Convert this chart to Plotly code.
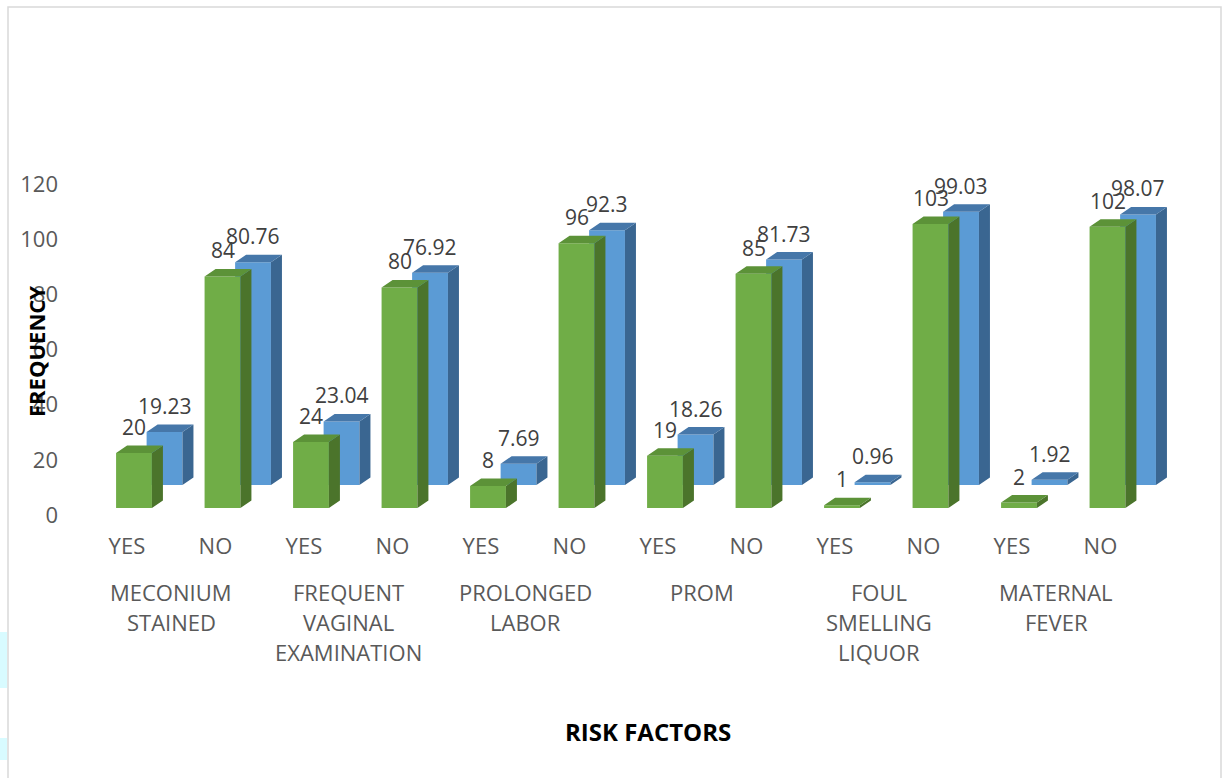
import plotly.graph_objects as go

# ---------------- data ----------------
answers = ["YES", "NO"] * 6
groups = [
    ["MECONIUM", "STAINED"],
    ["FREQUENT", "VAGINAL", "EXAMINATION"],
    ["PROLONGED", "LABOR"],
    ["PROM"],
    ["FOUL", "SMELLING", "LIQUOR"],
    ["MATERNAL", "FEVER"],
]
frequency = [20, 84, 24, 80, 8, 96, 19, 85, 1, 103, 2, 102]
percent = [19.23, 80.76, 23.04, 76.92, 7.69, 92.3, 18.26, 81.73, 0.96, 99.03, 1.92, 98.07]
y_ticks = [0, 20, 40, 60, 80, 100, 120]

# ---------------- layout geometry (pixels) ----------------
W, H = 1226, 778
ML, MR, MT, MB = 65, 40, 150, 263
X0_PX, STEP_PX = 134, 88.5          # pixel of first category, px per category
PX_PER_UNIT = 2.758                 # px per y unit
plot_w = W - ML - MR
plot_h = H - MT - MB
x_min = -(X0_PX - ML) / STEP_PX
x_max = x_min + plot_w / STEP_PX
y_max = plot_h / PX_PER_UNIT

# pseudo-3D styling
DX = 11 / STEP_PX
DY = 7.5 / PX_PER_UNIT
BAR_W = 0.405
GREEN_BASE = 2.5
BLUE_BASE = 10.9
BLUE_OFF = 0.345

GREEN = dict(front="#70AD47", side="#4B742B", top="#5C9238")
BLUE = dict(front="#5B9BD5", side="#3A6691", top="#4677A9")

xs = list(range(len(answers)))


def faces(xc, base, vals, w):
    sx, sy, tx, ty = [], [], [], []
    for x, v in zip(xc, vals):
        xl, xr = x - w / 2, x + w / 2
        y0, y1 = base, base + v
        sx += [xr, xr + DX, xr + DX, xr, xr, None]
        sy += [y0, y0 + DY, y1 + DY, y1, y0, None]
        tx += [xl, xr, xr + DX, xl + DX, xl, None]
        ty += [y1, y1, y1 + DY, y1 + DY, y1, None]
    return sx, sy, tx, ty


fig = go.Figure()


def add_series(xc, vals, base, col, xa, ya, name):
    fig.add_trace(go.Bar(x=xc, y=vals, base=base, width=BAR_W, name=name,
                         marker=dict(color=col["front"], line=dict(width=0)),
                         xaxis=xa, yaxis=ya, hoverinfo="skip"))
    sx, sy, tx, ty = faces(xc, base, vals, BAR_W)
    fig.add_trace(go.Scatter(x=sx, y=sy, fill="toself", mode="lines",
                             line=dict(width=0, color=col["side"]), fillcolor=col["side"],
                             xaxis=xa, yaxis=ya, hoverinfo="skip"))
    fig.add_trace(go.Scatter(x=tx, y=ty, fill="toself", mode="lines",
                             line=dict(width=0, color=col["top"]), fillcolor=col["top"],
                             xaxis=xa, yaxis=ya, hoverinfo="skip"))


blue_x = [x + BLUE_OFF for x in xs]
add_series(blue_x, percent, BLUE_BASE, BLUE, "x", "y", "Percent")
add_series(xs, frequency, GREEN_BASE, GREEN, "x2", "y2", "Frequency")

annotations = []
LABEL_FONT = dict(family="Open Sans", size=21, color="#404040")
for x, v in zip(blue_x, percent):
    annotations.append(dict(x=x, y=BLUE_BASE + v, xref="x", yref="y", text=f"{v:g}",
                            showarrow=False, yanchor="bottom", xanchor="center",
                            yshift=10, font=LABEL_FONT))
for x, v in zip(xs, frequency):
    annotations.append(dict(x=x, y=GREEN_BASE + v, xref="x", yref="y", text=f"{v:g}",
                            showarrow=False, yanchor="bottom", xanchor="center",
                            yshift=10, font=LABEL_FONT))

# group labels (one annotation per line)
CAT_FONT = dict(family="Open Sans", size=22, color="#595959")
for g, lines in enumerate(groups):
    for k, line in enumerate(lines):
        py = 592 + 30 * k
        annotations.append(dict(x=2 * g + 0.5, y=(H - MB - py) / plot_h, xref="x", yref="paper",
                                text=line, showarrow=False, xanchor="center", yanchor="middle",
                                xshift=-7, font=CAT_FONT))

# axis titles
annotations.append(dict(x=(648 - ML) / plot_w, y=(H - MB - 731) / plot_h, xref="paper", yref="paper",
                        text="<b>RISK FACTORS</b>", showarrow=False, xanchor="center", yanchor="middle",
                        font=dict(family="Open Sans", size=24, color="#000000")))
annotations.append(dict(x=(36 - ML) / plot_w, y=(H - MB - 352) / plot_h, xref="paper", yref="paper",
                        text="<b>FREQUENCY</b>", showarrow=False, textangle=-90,
                        xanchor="center", yanchor="middle",
                        font=dict(family="Open Sans", size=22, color="#000000")))


def px_rect(x0, y0, x1, y1, **kw):
    return dict(type="rect", xref="paper", yref="paper",
                x0=(x0 - ML) / plot_w, x1=(x1 - ML) / plot_w,
                y0=(H - MB - y1) / plot_h, y1=(H - MB - y0) / plot_h, layer="below", **kw)


shapes = [
    px_rect(-2, 632, 7, 688, line=dict(width=0), fillcolor="#D8FBFF"),
    px_rect(-2, 738, 7, 760, line=dict(width=0), fillcolor="#D8FBFF"),
    px_rect(8, 7, 1221, 790, line=dict(color="#D9D9D9", width=1.5), fillcolor="rgba(0,0,0,0)"),
]

fig.update_layout(
    width=W, height=H,
    margin=dict(l=ML, r=MR, t=MT, b=MB, pad=0),
    paper_bgcolor="white", plot_bgcolor="white",
    barmode="overlay", showlegend=False,
    annotations=annotations, shapes=shapes,
    xaxis=dict(range=[x_min, x_max], tickvals=[x - 0.08 for x in xs], ticktext=answers,
               showgrid=False, zeroline=False, showline=False, ticks="",
               tickfont=CAT_FONT, ticklabelstandoff=16, fixedrange=True),
    yaxis=dict(range=[0, y_max], tickvals=y_ticks, showgrid=False, zeroline=False,
               showline=False, ticks="", tickfont=dict(family="Open Sans", size=22, color="#595959"),
               ticklabelstandoff=6, fixedrange=True),
    xaxis2=dict(overlaying="x", range=[x_min, x_max], visible=False, fixedrange=True),
    yaxis2=dict(overlaying="y", range=[0, y_max], visible=False, fixedrange=True),
)

fig.write_html("out.html")
